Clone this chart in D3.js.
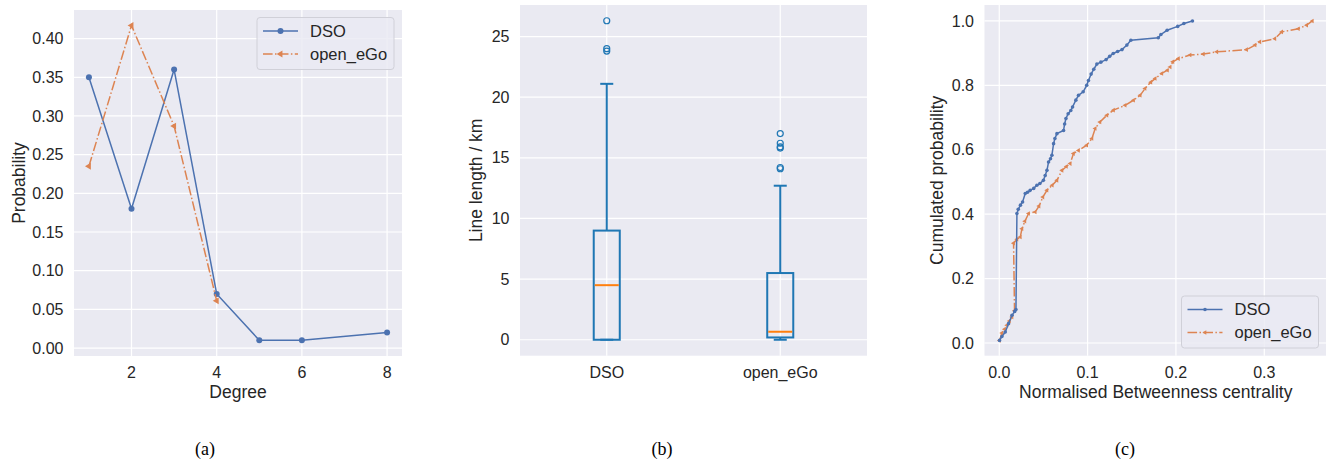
<!DOCTYPE html>
<html>
<head>
<meta charset="utf-8">
<script src="https://cdn.jsdelivr.net/npm/d3@7"></script>
<style>
  body { margin: 0; background: white; }
  svg { display: block; font-family: "Liberation Sans", Arial, sans-serif; }
</style>
</head>
<body>
<script>
// ---- data ----
const seriesNames = ["DSO", "open_eGo"];

// (a) degree distribution
const dsoDegree = [1, 2, 3, 4, 5, 6, 8];
const dsoDegreeProb = [0.35, 0.18, 0.36, 0.07, 0.01, 0.01, 0.02];
const egoDegree = [1, 2, 3, 4];
const egoDegreeProb = [0.235, 0.417, 0.287, 0.061];
const degreeTicks = [2, 4, 6, 8];
const probTicks = [0, 0.05, 0.10, 0.15, 0.20, 0.25, 0.30, 0.35, 0.40];

// (b) line length boxplot stats (km)
const boxCategories = ["DSO", "open_eGo"];
const boxLow = [0, 0];
const boxQ1 = [0, 0.19];
const boxMedian = [4.5, 0.66];
const boxQ3 = [9.0, 5.5];
const boxHigh = [21.1, 12.7];
const boxOutliers = [[26.3, 24.0, 23.8], [17.0, 16.2, 15.9, 15.8, 14.2, 14.1]];
const lengthTicks = [0, 5, 10, 15, 20, 25];

// (c) cumulative betweenness centrality
const dsoBcX = [0.0003, 0.003, 0.0068, 0.0105, 0.0144, 0.0175, 0.0189, 0.020, 0.0215, 0.024, 0.0264, 0.0294, 0.032, 0.035, 0.039, 0.0426, 0.046, 0.050, 0.052, 0.054, 0.0558, 0.058, 0.0596, 0.0615, 0.063, 0.0653, 0.0728, 0.074, 0.0755, 0.078, 0.081, 0.083, 0.0867, 0.0897, 0.095, 0.099, 0.101, 0.104, 0.107, 0.1105, 0.115, 0.121, 0.125, 0.129, 0.134, 0.139, 0.1445, 0.149, 0.18, 0.183, 0.19, 0.202, 0.209, 0.2187];
const dsoBcY = [0.008, 0.02, 0.034, 0.06, 0.086, 0.098, 0.104, 0.402, 0.415, 0.428, 0.438, 0.464, 0.468, 0.474, 0.48, 0.49, 0.495, 0.505, 0.52, 0.536, 0.562, 0.572, 0.583, 0.619, 0.635, 0.65, 0.66, 0.68, 0.697, 0.712, 0.722, 0.733, 0.754, 0.769, 0.78, 0.80, 0.815, 0.835, 0.85, 0.866, 0.872, 0.88, 0.89, 0.899, 0.905, 0.911, 0.925, 0.94, 0.948, 0.958, 0.971, 0.983, 0.992, 1.0];
const egoBcX = [0.0003, 0.003, 0.006, 0.0087, 0.0115, 0.0144, 0.0173, 0.0162, 0.02, 0.0238, 0.0257, 0.029, 0.0332, 0.0407, 0.045, 0.0494, 0.054, 0.06, 0.0653, 0.071, 0.076, 0.0803, 0.084, 0.0897, 0.099, 0.1049, 0.1086, 0.114, 0.1218, 0.1293, 0.1425, 0.152, 0.1595, 0.165, 0.1716, 0.1765, 0.184, 0.1904, 0.1934, 0.1965, 0.2028, 0.216, 0.231, 0.2463, 0.28, 0.2896, 0.295, 0.312, 0.3197, 0.3386, 0.348, 0.3544];
const egoBcY = [0.008, 0.031, 0.043, 0.055, 0.068, 0.081, 0.10, 0.31, 0.322, 0.329, 0.355, 0.378, 0.402, 0.407, 0.425, 0.453, 0.474, 0.49, 0.505, 0.536, 0.548, 0.557, 0.588, 0.598, 0.614, 0.635, 0.666, 0.686, 0.707, 0.723, 0.738, 0.754, 0.769, 0.79, 0.81, 0.821, 0.837, 0.847, 0.857, 0.873, 0.883, 0.894, 0.897, 0.904, 0.911, 0.925, 0.935, 0.945, 0.966, 0.976, 0.987, 1.0];
const bcTicks = [0, 0.1, 0.2, 0.3];
const cumTicks = [0, 0.2, 0.4, 0.6, 0.8, 1.0];

// ---- style ----
const blue = "#4c72b0", orange = "#dd8452";
const boxBlue = "#1f77b4", boxOrange = "#ff7f0e";
const bg = "#eaeaf2", textColor = "#262626";
const tickSize = 16, labelSize = 17.5;

const width = 1326, height = 461;
const svg = d3.select("body").append("svg")
  .attr("width", width).attr("height", height);

// draws background, grid and tick labels for one panel
function frame(x, y, xTicks, yTicks, xFmt, yFmt, xLabel, yLabel, yLabelX) {
  const [x0, x1] = x.range(), [y0, y1] = y.range();
  const g = svg.append("g");
  g.append("rect").attr("x", x0).attr("y", y1)
    .attr("width", x1 - x0).attr("height", y0 - y1).attr("fill", bg);
  g.selectAll(".gx").data(xTicks).join("line")
    .attr("x1", d => x(d)).attr("x2", d => x(d))
    .attr("y1", y1).attr("y2", y0)
    .attr("stroke", "white").attr("stroke-width", 1.2);
  g.selectAll(".gy").data(yTicks).join("line")
    .attr("y1", d => y(d)).attr("y2", d => y(d))
    .attr("x1", x0).attr("x2", x1)
    .attr("stroke", "white").attr("stroke-width", 1.2);
  g.selectAll(".tx").data(xTicks).join("text")
    .attr("x", d => x(d)).attr("y", y0 + 22)
    .attr("text-anchor", "middle").attr("font-size", tickSize).attr("fill", textColor)
    .text(xFmt);
  g.selectAll(".ty").data(yTicks).join("text")
    .attr("x", x0 - 10.5).attr("y", d => y(d)).attr("dy", "0.35em")
    .attr("text-anchor", "end").attr("font-size", tickSize).attr("fill", textColor)
    .text(yFmt);
  if (xLabel) g.append("text")
    .attr("x", (x0 + x1) / 2).attr("y", y0 + 42)
    .attr("text-anchor", "middle").attr("font-size", labelSize).attr("fill", textColor)
    .text(xLabel);
  g.append("text")
    .attr("transform", `translate(${yLabelX},${(y0 + y1) / 2}) rotate(-90)`)
    .attr("text-anchor", "middle").attr("font-size", labelSize).attr("fill", textColor)
    .text(yLabel);
  return g;
}

const leftTri = (size) => d3.symbol(d3.symbolTriangle, size);

function legend(x, y, w, h, markerDso, markerEgo) {
  const g = svg.append("g").attr("transform", `translate(${x},${y})`);
  g.append("rect").attr("width", w).attr("height", h).attr("rx", 3)
    .attr("fill", bg).attr("fill-opacity", 0.8)
    .attr("stroke", "#d0d0d8").attr("stroke-width", 1);
  const rows = [
    { name: seriesNames[0], color: blue, dash: null, yy: 13.5, mk: markerDso },
    { name: seriesNames[1], color: orange, dash: "9.6,2.4,1.5,2.4", yy: 36.5, mk: markerEgo }
  ];
  rows.forEach(r => {
    g.append("line").attr("x1", 6).attr("x2", 41).attr("y1", r.yy).attr("y2", r.yy)
      .attr("stroke", r.color).attr("stroke-width", 1.5)
      .attr("stroke-dasharray", r.dash);
    r.mk(g.append("g").attr("transform", `translate(23.5,${r.yy})`), r.color);
    g.append("text").attr("x", 53).attr("y", r.yy).attr("dy", "0.36em")
      .attr("font-size", 16.5).attr("fill", textColor).text(r.name);
  });
}

// ---- (a) ----
{
  const x = d3.scaleLinear().domain([0.65, 8.35]).range([74, 402]);
  const y = d3.scaleLinear().domain([-0.0103, 0.437]).range([356, 10]);
  const g = frame(x, y, degreeTicks, probTicks, d => d, d3.format(".2f"),
    "Degree", "Probability", 25);
  const line = d3.line().x(d => x(d[0])).y(d => y(d[1]));
  const dso = dsoDegree.map((d, i) => [d, dsoDegreeProb[i]]);
  const ego = egoDegree.map((d, i) => [d, egoDegreeProb[i]]);
  g.append("path").attr("d", line(dso)).attr("fill", "none")
    .attr("stroke", blue).attr("stroke-width", 1.5);
  g.selectAll(".pd").data(dso).join("circle")
    .attr("cx", d => x(d[0])).attr("cy", d => y(d[1])).attr("r", 3).attr("fill", blue);
  g.append("path").attr("d", line(ego)).attr("fill", "none")
    .attr("stroke", orange).attr("stroke-width", 1.5)
    .attr("stroke-dasharray", "9.6,2.4,1.5,2.4");
  g.selectAll(".pe").data(ego).join("path")
    .attr("transform", d => `translate(${x(d[0])},${y(d[1])}) rotate(-90)`)
    .attr("d", leftTri(20)).attr("fill", orange);
  legend(257, 17.5, 137, 52,
    (m, c) => m.append("circle").attr("r", 3).attr("fill", c),
    (m, c) => m.append("path").attr("d", leftTri(20)()).attr("transform", "rotate(-90)").attr("fill", c));
}

// ---- (b) ----
{
  const x = d3.scaleLinear().domain([0.5, 2.5]).range([520, 867]);
  const y = d3.scaleLinear().domain([-1.315, 27.6]).range([355.7, 5]);
  const g = frame(x, y, [1, 2], lengthTicks, (d, i) => boxCategories[i], d => d,
    null, "Line length / km", 482);
  const half = (x(1.15) - x(1)) / 2;
  boxCategories.forEach((c, i) => {
    const cx = x(i + 1);
    g.append("line").attr("x1", cx).attr("x2", cx)
      .attr("y1", y(boxQ3[i])).attr("y2", y(boxHigh[i]))
      .attr("stroke", boxBlue).attr("stroke-width", 2);
    g.append("line").attr("x1", cx).attr("x2", cx)
      .attr("y1", y(boxQ1[i])).attr("y2", y(boxLow[i]))
      .attr("stroke", boxBlue).attr("stroke-width", 2);
    [boxHigh[i], boxLow[i]].forEach(v => g.append("line")
      .attr("x1", cx - half / 2).attr("x2", cx + half / 2)
      .attr("y1", y(v)).attr("y2", y(v))
      .attr("stroke", boxBlue).attr("stroke-width", 2));
    g.append("rect").attr("x", cx - half).attr("width", 2 * half)
      .attr("y", y(boxQ3[i])).attr("height", y(boxQ1[i]) - y(boxQ3[i]))
      .attr("fill", "none").attr("stroke", boxBlue).attr("stroke-width", 2);
    g.append("line").attr("x1", cx - half + 1).attr("x2", cx + half - 1)
      .attr("y1", y(boxMedian[i])).attr("y2", y(boxMedian[i]))
      .attr("stroke", boxOrange).attr("stroke-width", 2);
    g.selectAll(null).data(boxOutliers[i]).join("circle")
      .attr("cx", cx).attr("cy", d => y(d)).attr("r", 3)
      .attr("fill", "none").attr("stroke", boxBlue).attr("stroke-width", 1.2);
  });
}

// ---- (c) ----
{
  const x = d3.scaleLinear().domain([-0.0167, 0.371]).range([984.5, 1327]);
  const y = d3.scaleLinear().domain([-0.0395, 1.0495]).range([355.7, 5]);
  const g = frame(x, y, bcTicks, cumTicks, d3.format(".1f"), d3.format(".1f"),
    "Normalised Betweenness centrality", "Cumulated probability", 943);
  const line = d3.line().x(d => x(d[0])).y(d => y(d[1]));
  const dso = dsoBcX.map((d, i) => [d, dsoBcY[i]]);
  const ego = egoBcX.map((d, i) => [d, egoBcY[i]]);
  g.append("path").attr("d", line(ego)).attr("fill", "none")
    .attr("stroke", orange).attr("stroke-width", 1.5)
    .attr("stroke-dasharray", "9.6,2.4,1.5,2.4");
  g.selectAll(".ce").data(ego).join("path")
    .attr("transform", d => `translate(${x(d[0])},${y(d[1])}) rotate(-90)`)
    .attr("d", leftTri(9)).attr("fill", orange);
  g.append("path").attr("d", line(dso)).attr("fill", "none")
    .attr("stroke", blue).attr("stroke-width", 1.5);
  g.selectAll(".cd").data(dso).join("circle")
    .attr("cx", d => x(d[0])).attr("cy", d => y(d[1])).attr("r", 1.8).attr("fill", blue);
  legend(1181.5, 296, 137, 52,
    (m, c) => m.append("circle").attr("r", 1.8).attr("fill", c),
    (m, c) => m.append("path").attr("d", leftTri(9)()).attr("transform", "rotate(-90)").attr("fill", c));
}

// ---- captions ----
[["(a)", 205], ["(b)", 662], ["(c)", 1125]].forEach(([t, cx]) => {
  svg.append("text").attr("x", cx).attr("y", 455)
    .attr("text-anchor", "middle").attr("font-family", "Liberation Serif, Times New Roman, serif")
    .attr("font-size", 18).attr("fill", "black").text(t);
});
</script>
</body>
</html>
